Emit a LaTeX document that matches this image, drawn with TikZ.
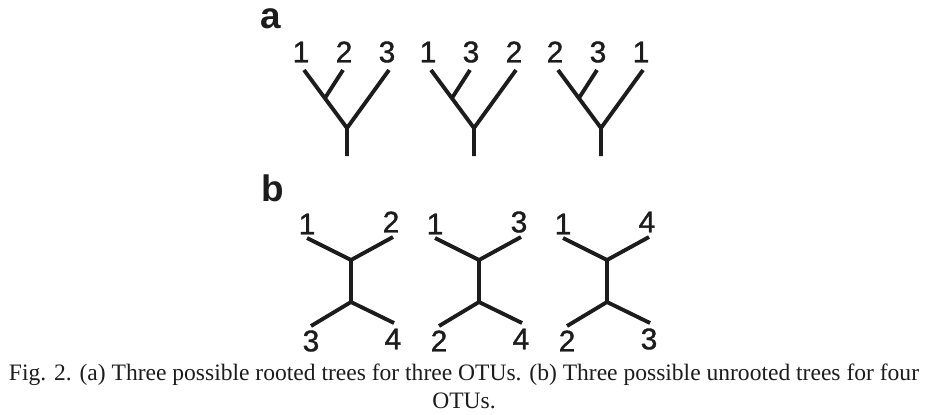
\documentclass[tikz,border=0pt]{standalone}
\usepackage{fontspec}
\setmainfont{Liberation Serif}
\setsansfont{Liberation Sans}
\newfontfamily\otufont[FakeBold=1.2]{Liberation Sans}
\definecolor{ink}{HTML}{1C1C1C}
\tikzset{
  branch/.style={draw=ink, line width=2.2pt},
  otu/.style={font=\otufont\fontsize{17}{19}\selectfont, text=ink, inner sep=0pt},
  panel/.style={font=\sffamily\bfseries\fontsize{21}{24}\selectfont, text=ink, inner sep=0pt},
  caption/.style={font=\fontsize{13.4}{16}\selectfont, text=ink, inner sep=0pt, align=center},
}

\begin{document}
\begin{tikzpicture}[x=0.02cm, y=-0.02cm]
  \useasboundingbox (0,0) rectangle (928,414);
  % (a) rooted trees
  \node[panel] (pa) at (271,19) {a};
  \foreach \cx/\p/\q/\s [count=\i] in {347/1/2/3, 474/1/3/2, 601/2/3/1} {
    \coordinate (a\i-root) at (\cx,156);
    \coordinate (a\i-fork) at (\cx,128);
    \coordinate (a\i-inner) at (\cx-22,98);
    \coordinate (a\i-left) at (\cx-43,70);
    \coordinate (a\i-mid) at (\cx-4,70);
    \coordinate (a\i-right) at (\cx+42,70);
    \draw[branch] (a\i-root) -- (a\i-fork) -- (a\i-left);
    \draw[branch] (a\i-inner) -- (a\i-mid);
    \draw[branch] (a\i-fork) -- (a\i-right);
    \node[otu] (a\i-p) at (\cx-46,52) {\p};
    \node[otu] (a\i-q) at (\cx-3,52) {\q};
    \node[otu] (a\i-s) at (\cx+40,52) {\s};
  }
  % (b) unrooted trees
  \node[panel] (pb) at (273,188) {b};
  \foreach \cx/\p/\q/\s/\t [count=\i] in {351/1/2/3/4, 479/1/3/2/4, 607/1/4/2/3} {
    \coordinate (b\i-top) at (\cx,260);
    \coordinate (b\i-bot) at (\cx,302);
    \coordinate (b\i-ul) at (\cx-44,238);
    \coordinate (b\i-ur) at (\cx+42,237);
    \coordinate (b\i-ll) at (\cx-40,326);
    \coordinate (b\i-lr) at (\cx+43,323);
    \draw[branch] (b\i-ul) -- (b\i-top) -- (b\i-ur);
    \draw[branch] (b\i-top) -- (b\i-bot);
    \draw[branch] (b\i-ll) -- (b\i-bot) -- (b\i-lr);
    \node[otu] (b\i-p) at (\cx-44,224) {\p};
    \node[otu] (b\i-q) at (\cx+40,222) {\q};
    \node[otu] (b\i-s) at (\cx-40,341) {\s};
    \node[otu] (b\i-t) at (\cx+42,339) {\t};
  }
  \node[caption] (cap) at (464,386) {Fig. 2. (a) Three possible rooted trees for three OTUs. (b) Three possible unrooted trees for four\\OTUs.};
\end{tikzpicture}
\end{document}
